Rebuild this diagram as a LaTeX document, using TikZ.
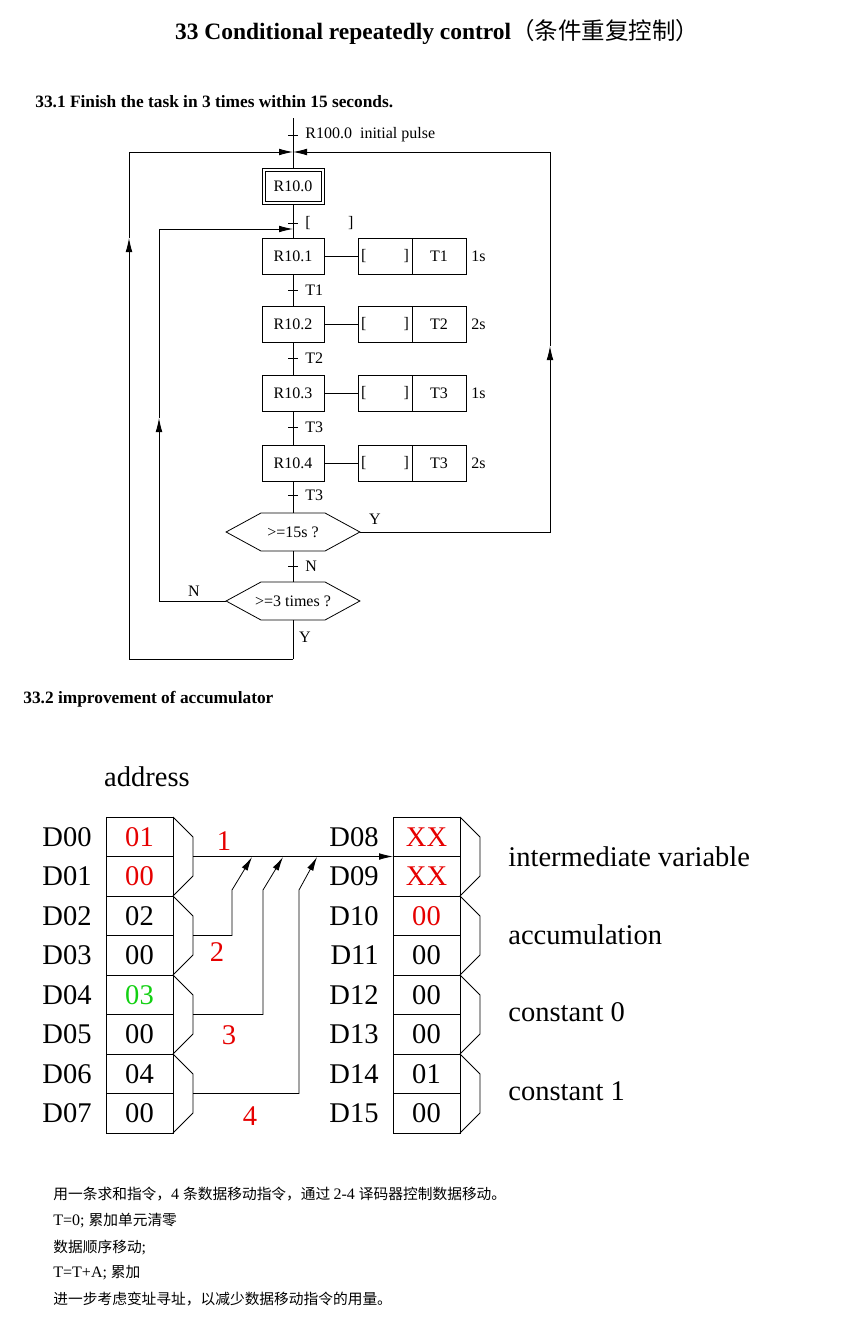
\documentclass[tikz,border=0pt]{standalone}
\usepackage{fontspec}
\setmainfont{Liberation Serif}
\newfontfamily\cjk{Noto Sans CJK SC}
\newfontfamily\cjksm[Scale=0.92]{Noto Sans CJK SC}
\usepackage{xcolor}
\usepackage{tikz}
\usetikzlibrary{calc,arrows.meta}
\definecolor{accred}{HTML}{E60000}
\definecolor{accgreen}{HTML}{12D012}
\newcommand\flowfont{\fontsize{12}{14}\selectfont}
\newcommand\accfont{\fontsize{21.4}{24}\selectfont}
\newcommand\hexline[1]{\draw (#1.west) -- ($(#1.north west)+(35,0)$) -- ($(#1.north east)+(-35,0)$) -- (#1.east) -- ($(#1.south east)+(-35,0)$) -- ($(#1.south west)+(35,0)$) -- cycle;}
\tikzset{
  titletext/.style = {inner sep=0pt, font=\fontsize{17.6}{20}\selectfont\bfseries},
  headtext/.style  = {anchor=west, inner sep=0pt, font=\fontsize{13}{15}\selectfont\bfseries},
  stepbox/.style   = {draw, minimum width=46.5pt, minimum height=27pt, inner sep=0pt, font=\flowfont},
  actbox/.style    = {draw, minimum width=40.5pt, minimum height=27pt, inner sep=0pt, font=\flowfont},
  hexnode/.style   = {minimum width=99.75pt, minimum height=28pt, inner sep=0pt, font=\flowfont},
  flowlabel/.style = {inner sep=0pt, font=\flowfont},
  durtext/.style   = {anchor=west, inner sep=0pt, font=\flowfont},
  trlabel/.style   = {anchor=west, inner sep=0pt, xshift=5.25pt, font=\flowfont},
  cell/.style      = {draw, minimum width=50.25pt, minimum height=29.625pt, inner sep=0pt, outer sep=0pt, font=\accfont},
  dlabel/.style    = {inner sep=0pt, label distance=10.5pt, font=\accfont},
  acctext/.style   = {inner sep=0pt, font=\accfont},
  notetext/.style  = {anchor=west, inner sep=0pt, font=\fontsize{12}{14}\selectfont}
}

\begin{document}
\begin{tikzpicture}[x=0.75pt, y=-0.75pt, line width=0.6pt, >={Latex[length=10.5pt,width=5pt]}]
  \useasboundingbox (0,0) rectangle (843,1331);
  \node[titletext] (title) at (437,32) {33 Conditional repeatedly control{\cjk\mdseries （条件重复控制）}};
  \node[headtext] (head1) at (35,102) {33.1 Finish the task in 3 times within 15 seconds.};

  \coordinate (top) at (293,118);
  \coordinate (tp) at (293,135);
  \coordinate (join0) at (293,152);
  \node[stepbox] (s0) at (293,186) {R10.0};
  \draw ($(s0.north west)+(3.5,3.5)$) rectangle ($(s0.south east)+(-3.5,-3.5)$);
  \coordinate (tq) at (293,223);
  \coordinate (join1) at (293,229);
  \draw ($(tp)+(-5,0)$) -- ($(tp)+(5,0)$) node[trlabel]{R100.0\ \ initial pulse};
  \draw ($(tq)+(-5,0)$) -- ($(tq)+(5,0)$) node[trlabel]{[\hspace{28pt}]};
  \foreach \n/\y/\dur in {1/256/1s, 2/324/2s, 3/393.5/1s, 4/463/2s}{
    \node[stepbox] (s\n) at (293,\y) {R10.\n};
    \node[actbox] (a\n) at (385,\y) {[\hspace{28pt}]};
    \node[durtext] (c\n) at (471,\y) {\dur};
    \draw (s\n) -- (a\n);
  }
  \node[actbox] (b1) at (439,256) {T1};
  \node[actbox] (b2) at (439,324) {T2};
  \node[actbox] (b3) at (439,393.5) {T3};
  \node[actbox] (b4) at (439,463) {T3};
  \foreach \n/\y/\tm in {1/290/T1, 2/358/T2, 3/427/T3, 4/495/T3}{
    \coordinate (t\n) at (293,\y);
    \draw ($(t\n)+(-5,0)$) -- ($(t\n)+(5,0)$) node[trlabel]{\tm};
  }
  \node[hexnode] (q1) at (293,532) {>=15s ?};
  \hexline{q1}
  \coordinate (t5) at (293,566);
  \draw ($(t5)+(-5,0)$) -- ($(t5)+(5,0)$) node[trlabel]{N};
  \node[hexnode] (q2) at (293,601) {>=3 times ?};
  \hexline{q2}
  \coordinate (bot) at (293,659);

  \draw (top) -- (s0);
  \draw (s0) -- (s1);
  \draw (s1) -- (s2);
  \draw (s2) -- (s3);
  \draw (s3) -- (s4);
  \draw (s4) -- (q1);
  \draw (q1) -- (q2);
  \draw (q2.south) -- (bot);

  \coordinate (rmid) at (550,346);
  \draw[->] (q1.east) -| (rmid);
  \draw[->] (rmid) |- (join0);
  \node[flowlabel] (y1) at (375,519) {Y};
  \coordinate (nmid) at (159,418);
  \draw[->] (q2.west) -| (nmid);
  \draw[->] (nmid) |- (join1);
  \node[flowlabel] (n2) at (194,591) {N};
  \coordinate (ymid) at (129,238);
  \draw[->] (bot) -| (ymid);
  \draw[->] (ymid) |- (join0);
  \node[flowlabel] (y2) at (305,637) {Y};

  \node[headtext] (head2) at (23,699) {33.2 improvement of accumulator};
  \node[acctext] (addr) at (147,777) {address};
  \foreach \i/\val/\col in {0/01/accred, 1/00/accred, 2/02/black, 3/00/black, 4/03/accgreen, 5/00/black, 6/04/black, 7/00/black}
    \node[cell, text=\col, label={[dlabel]left:D0\i}] (d0\i) at (139.5,{836.75+39.5*\i}) {\val};
  \foreach \j/\val/\col [count=\r from 0] in {08/XX/accred, 09/XX/accred, 10/00/accred, 11/00/black, 12/00/black, 13/00/black, 14/01/black, 15/00/black}
    \node[cell, text=\col, label={[dlabel]left:D\j}] (d\j) at (426.5,{836.75+39.5*\r}) {\val};
  \foreach \a/\b in {d00/d01, d02/d03, d04/d05, d06/d07, d08/d09, d10/d11, d12/d13, d14/d15}
    \draw (\a.north east) -- ++(20,20) -- ($(\b.south east)+(20,-20)$) -- (\b.south east);

  \draw[->] ($(d00.south east)+(20,0)$) -- (d08.south west);
  \coordinate (k2) at (232,890);
  \coordinate (m2) at (252,857);
  \draw[->] ($(d02.south east)+(20,0)$) -| (k2) -- (m2);
  \coordinate (k3) at (263,890);
  \coordinate (m3) at (283,857);
  \draw[->] ($(d04.south east)+(20,0)$) -| (k3) -- (m3);
  \coordinate (k4) at (299,890);
  \coordinate (m4) at (317,857);
  \draw[->] ($(d06.south east)+(20,0)$) -| (k4) -- (m4);
  \node[acctext, text=accred] (r1) at (224,841) {1};
  \node[acctext, text=accred] (r2) at (217,952) {2};
  \node[acctext, text=accred] (r3) at (229,1035) {3};
  \node[acctext, text=accred] (r4) at (250,1116) {4};
  \node[acctext, anchor=west] (g1) at (508,857) {intermediate variable};
  \node[acctext, anchor=west] (g2) at (508,935) {accumulation};
  \node[acctext, anchor=west] (g3) at (508,1012) {constant 0};
  \node[acctext, anchor=west] (g4) at (508,1091) {constant 1};

  \node[notetext] (note1) at (53,1194) {{\cjksm 用一条求和指令，}4 {\cjksm 条数据移动指令，通过 }2-4 {\cjksm 译码器控制数据移动。}};
  \node[notetext] (note2) at (53,1221) {T=0;\ {\cjksm 累加单元清零}};
  \node[notetext] (note3) at (53,1247) {{\cjksm 数据顺序移动};};
  \node[notetext] (note4) at (53,1273) {T=T+A;\ {\cjksm 累加}};
  \node[notetext] (note5) at (53,1299) {{\cjksm 进一步考虑变址寻址，以减少数据移动指令的用量。}};
\end{tikzpicture}
\end{document}
